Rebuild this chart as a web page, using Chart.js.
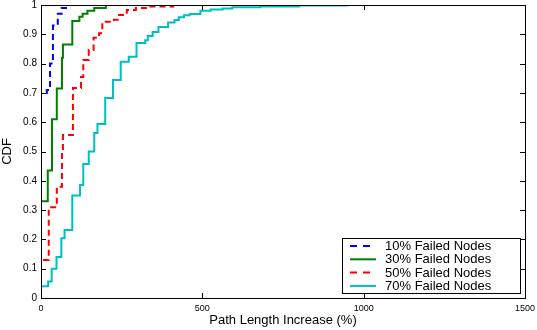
<!DOCTYPE html>
<html>
<head>
<meta charset="utf-8">
<script src="https://cdn.jsdelivr.net/npm/chart.js@4/dist/chart.umd.min.js"></script>
<style>
  body { margin: 0; background: #fff; }
</style>
</head>
<body>
<canvas id="cdf" width="537" height="330"></canvas>
<script>
const seriesLabels = ["10% Failed Nodes", "30% Failed Nodes", "50% Failed Nodes", "70% Failed Nodes"];

const failed10X = [0, 0, 18, 28, 37, 52, 64, 83, 1500];
const failed10Y = [0, 0.70, 0.71, 0.80, 0.93, 0.97, 0.99, 1.0, 1.0];

const failed30X = [0, 0, 21, 34, 49, 65, 68, 97, 119, 129, 144, 165, 201, 1500];
const failed30Y = [0, 0.33, 0.435, 0.61, 0.715, 0.82, 0.865, 0.945, 0.96, 0.97, 0.98, 0.99, 1.0, 1.0];

const failed50X = [0, 0, 24, 49, 65, 68, 99, 124, 131, 148, 163, 180, 190, 226, 242, 266, 294, 333, 410, 1500];
const failed50Y = [0, 0.13, 0.31, 0.38, 0.50, 0.556, 0.717, 0.754, 0.812, 0.846, 0.888, 0.904, 0.943, 0.95, 0.966, 0.983, 0.99, 0.995, 1.0, 1.0];

const failed70X = [0, 0, 22, 33, 48, 63, 73, 97, 121, 131, 148, 165, 175, 199, 223, 247, 272, 296, 323, 331, 346, 364, 394, 414, 427, 443, 461, 494, 526, 563, 593, 680, 800, 950, 1500];
const failed70Y = [0, 0.04, 0.056, 0.10, 0.14, 0.204, 0.232, 0.35, 0.386, 0.457, 0.50, 0.563, 0.594, 0.683, 0.744, 0.806, 0.823, 0.87, 0.88, 0.894, 0.908, 0.925, 0.94, 0.949, 0.958, 0.965, 0.969, 0.98, 0.985, 0.988, 0.992, 0.995, 0.998, 1.0, 1.0];

const xTicks = [0, 500, 1000, 1500];
const yTicks = [0, 0.1, 0.2, 0.3, 0.4, 0.5, 0.6, 0.7, 0.8, 0.9, 1];

const colors = ["#0000ff", "#008000", "#ff0000", "#00bfbf"];
const dashes = [[6, 4], [], [6, 4], []];

function toPoints(xs, ys) {
  return xs.map((x, i) => ({ x: x, y: ys[i] }));
}

const seriesData = [
  toPoints(failed10X, failed10Y),
  toPoints(failed30X, failed30Y),
  toPoints(failed50X, failed50Y),
  toPoints(failed70X, failed70Y),
];

// matlab style frame: box around the axes with ticks pointing inwards
const framePlugin = {
  id: "frame",
  afterDatasetsDraw(chart) {
    const { ctx, chartArea: a, scales } = chart;
    ctx.save();
    ctx.strokeStyle = "#000";
    ctx.lineWidth = 1;
    ctx.beginPath();
    xTicks.forEach((v) => {
      const px = Math.round(scales.x.getPixelForValue(v)) + 0.5;
      ctx.moveTo(px, a.bottom);
      ctx.lineTo(px, a.bottom - 5);
      ctx.moveTo(px, a.top);
      ctx.lineTo(px, a.top + 5);
    });
    yTicks.forEach((v) => {
      const py = Math.round(scales.y.getPixelForValue(v)) + 0.5;
      ctx.moveTo(a.left, py);
      ctx.lineTo(a.left + 5, py);
      ctx.moveTo(a.right, py);
      ctx.lineTo(a.right - 5, py);
    });
    ctx.stroke();
    ctx.strokeRect(Math.round(a.left) + 0.5, Math.round(a.top) + 0.5,
      Math.round(a.right - a.left), Math.round(a.bottom - a.top));

    // legend box in the lower right corner
    const box = { left: 342, top: 238, right: 520, bottom: 293 };
    ctx.fillStyle = "#fff";
    ctx.fillRect(box.left, box.top, box.right - box.left, box.bottom - box.top);
    ctx.strokeRect(box.left + 0.5, box.top + 0.5, box.right - box.left, box.bottom - box.top);
    ctx.font = "13px 'Liberation Sans', Arial, sans-serif";
    ctx.textBaseline = "middle";
    chart.data.datasets.forEach((ds, i) => {
      const y = 246 + i * 13.3;
      ctx.beginPath();
      ctx.strokeStyle = ds.borderColor;
      ctx.lineWidth = 2;
      ctx.setLineDash(i % 2 === 0 ? [7, 6] : []);
      ctx.moveTo(350, y);
      ctx.lineTo(376, y);
      ctx.stroke();
      ctx.setLineDash([]);
      ctx.fillStyle = "#000";
      ctx.fillText(ds.label, 385, y + 0.5);
    });
    ctx.restore();
  },
};

new Chart(document.getElementById("cdf"), {
  type: "line",
  data: {
    datasets: seriesData.map((pts, i) => ({
      label: seriesLabels[i],
      data: pts,
      borderColor: colors[i],
      borderWidth: 2,
      borderDash: dashes[i],
      pointRadius: 0,
      stepped: true,
      fill: false,
    })),
  },
  options: {
    responsive: false,
    animation: false,
    devicePixelRatio: 1,
    layout: { padding: { top: 5, right: 12, left: 0, bottom: 0 } },
    plugins: { legend: { display: false }, tooltip: { enabled: false } },
    scales: {
      x: {
        type: "linear",
        min: 0,
        max: 1500,
        afterBuildTicks: (s) => { s.ticks = xTicks.map((v) => ({ value: v })); },
        afterFit: (s) => {
          s.height = 32;
          s.paddingLeft = 0;
          s.paddingRight = 0;
        },
        grid: { display: false, drawTicks: false },
        border: { display: false },
        ticks: {
          color: "#000",
          padding: 5,
          font: { family: "'Liberation Sans', Arial", size: 9 },
          callback: (v) => String(v),
        },
        title: {
          display: true,
          text: "Path Length Increase (%)",
          color: "#000",
          padding: { top: 0, bottom: 2 },
          font: { family: "'Liberation Sans', Arial", size: 13 },
        },
      },
      y: {
        min: 0,
        max: 1,
        afterBuildTicks: (s) => { s.ticks = yTicks.map((v) => ({ value: v })); },
        afterFit: (s) => {
          s.width = 41;
          s.paddingTop = 0;
          s.paddingBottom = 0;
        },
        grid: { display: false, drawTicks: false },
        border: { display: false },
        ticks: {
          color: "#000",
          padding: 4,
          font: { family: "'Liberation Sans', Arial", size: 10 },
          callback: (v) => String(Math.round(v * 10) / 10),
        },
        title: {
          display: true,
          text: "CDF",
          color: "#000",
          padding: { top: 0, bottom: 0 },
          font: { family: "'Liberation Sans', Arial", size: 13 },
        },
      },
    },
  },
  plugins: [framePlugin],
});
</script>
</body>
</html>
